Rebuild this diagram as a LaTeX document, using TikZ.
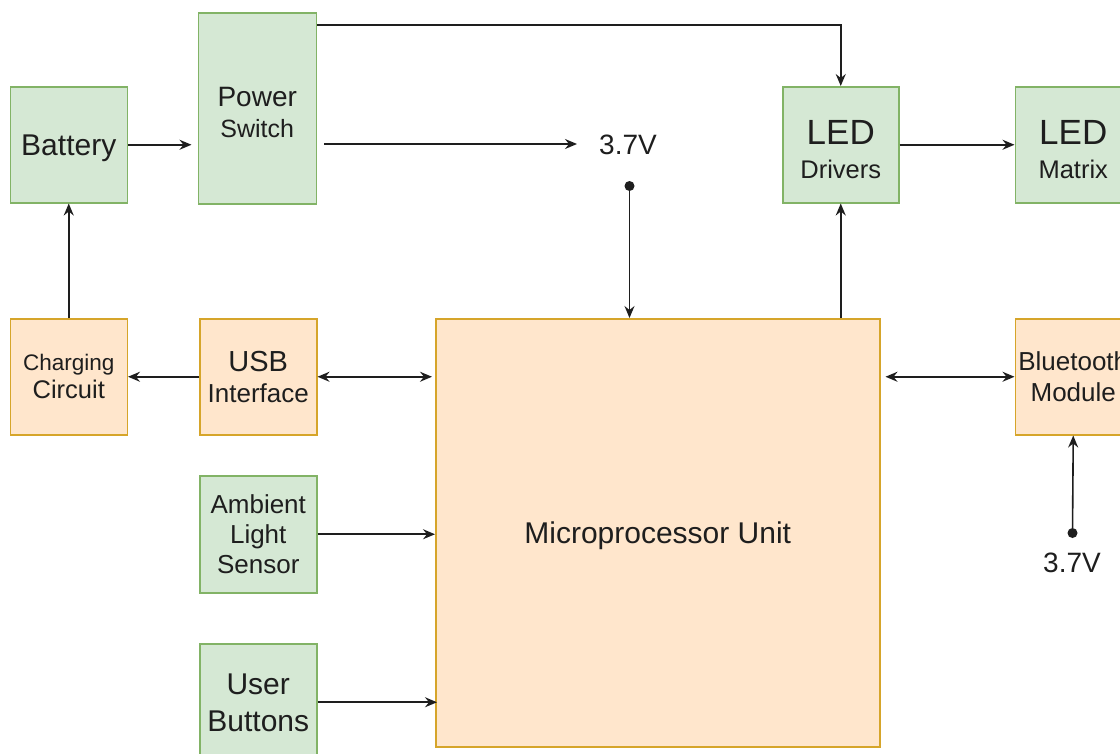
\documentclass[tikz,border=0pt]{standalone}
\usepackage{fontspec}
\setmainfont{Liberation Sans}
\usetikzlibrary{arrows.meta}
\definecolor{gfill}{HTML}{D5E8D4}
\definecolor{gline}{HTML}{82B366}
\definecolor{ofill}{HTML}{FFE6CC}
\definecolor{oline}{HTML}{D6A52A}
\definecolor{ink}{HTML}{1E1E1E}
\newcommand{\fsz}[2]{\fontsize{#1}{#2}\selectfont}
\begin{document}
\begin{tikzpicture}[x=1pt,y=-1pt,
  blk/.style={draw, line width=1.5pt, inner sep=0pt, anchor=north west, align=center, text=ink, text depth=0pt},
  gblk/.style={blk, fill=gfill, draw=gline},
  oblk/.style={blk, fill=ofill, draw=oline},
  wire/.style={draw=ink, line width=1.6pt},
  arr/.style={wire, -{Stealth[length=12pt,width=10pt,inset=4pt]}},
  darr/.style={wire, {Stealth[length=12pt,width=10pt,inset=4pt]}-{Stealth[length=12pt,width=10pt,inset=4pt]}},
  junc/.style={circle, fill=ink, inner sep=0pt, minimum size=10pt},
  lbl/.style={inner sep=0pt, text=ink, font=\fsz{28}{32}}
]
\useasboundingbox (0,0) rectangle (1120,753);
\clip (0,0) rectangle (1120,753);
\fill[white] (0,0) rectangle (1120,753);

% blocks
\node[gblk, minimum width=117pt, minimum height=116pt, font=\fsz{30}{34}] (bat) at (9.5,86) {Battery};
\node[gblk, minimum width=118pt, minimum height=191pt, font=\fsz{25}{30.5}] (pow) at (197.5,12) {{\fsz{28}{30.5}\rule{0pt}{27.5pt}Power}\\Switch};
\node[gblk, minimum width=116pt, minimum height=116pt, font=\fsz{25.5}{34}] (drv) at (782,86) {{\fsz{35}{34}\rule{0pt}{33pt}LED}\\Drivers};
\node[gblk, minimum width=116pt, minimum height=116pt, font=\fsz{25.5}{34}] (mat) at (1014.5,86) {{\fsz{35}{34}\rule{0pt}{33pt}LED}\\Matrix};
\node[oblk, minimum width=117pt, minimum height=116pt, font=\fsz{25.5}{28}] (chg) at (9.5,318) {{\fsz{22.5}{28}Charging}\\Circuit};
\node[oblk, minimum width=117pt, minimum height=116pt, font=\fsz{26}{31}] (usb) at (199,318) {{\fsz{29}{31}USB}\\Interface};
\node[gblk, minimum width=117pt, minimum height=117pt, font=\fsz{26}{30}] (amb) at (199,475) {Ambient\\Light\\Sensor};
\node[gblk, minimum width=117pt, minimum height=117pt, font=\fsz{30}{37}] (btn) at (199,643) {User\\Buttons};
\node[oblk, minimum width=444pt, minimum height=428pt, font=\fsz{30}{34}] (mcu) at (435,318) {Microprocessor Unit};
\node[oblk, minimum width=116pt, minimum height=116pt, font=\fsz{26}{31.5}] (bt) at (1014.5,318) {Bluetooth\\Module};

% voltage labels and junctions
\node[lbl] (v1) at (628,145) {3.7V};
\node[junc] (d1) at (629.5,186) {};
\node[junc] (d2) at (1072.5,533) {};
\node[lbl] (v2) at (1072,563) {3.7V};
\coordinate (v1tip) at (577,144);

% connectors
\draw[arr] (bat.east) -- ([xshift=-6pt]bat.east -| pow.west);
\draw[arr] ([yshift=-13pt]pow.north east) -| (drv.north);
\draw[arr] ([xshift=7pt]pow.east |- v1tip) -- (v1tip);
\draw[arr] (d1) -- (d1 |- mcu.north);
\draw[arr] (drv.south |- mcu.north) -- (drv.south);
\draw[arr] (drv.east) -- (mat.west);
\draw[arr] (chg.north) -- (bat.south);
\draw[arr] (usb.west) -- (chg.east);
\draw[darr] (usb.east) -- ([xshift=-3pt]usb.east -| mcu.west);
\draw[arr] (amb.east) -- (amb.east -| mcu.west);
\draw[arr] (btn.east) -- ([xshift=2pt]btn.east -| mcu.west);
\draw[darr] ([xshift=5pt]mcu.east |- bt.west) -- (bt.west);
\draw[arr] (d2) -- (bt.south);
\end{tikzpicture}
\end{document}
